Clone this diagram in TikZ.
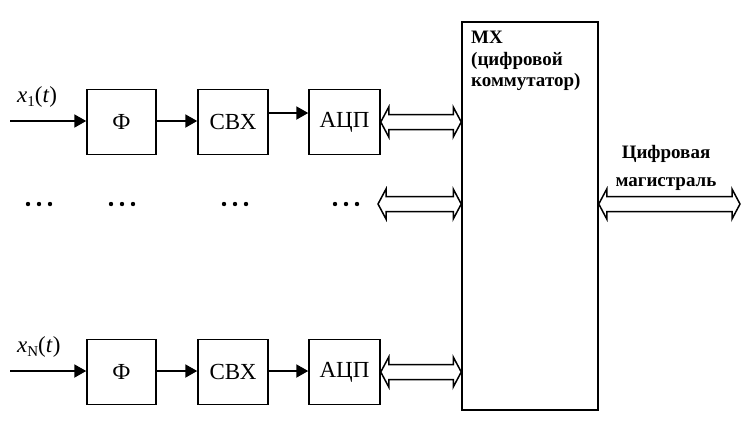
\documentclass[tikz,border=0pt]{standalone}
\usepackage{fontspec}
\setmainfont{Liberation Serif}
\usetikzlibrary{arrows.meta,calc}
% hollow two-way bus arrow between two points
\def\bus#1#2{\draw[buswire] let \p1=(#1), \p2=(#2) in
  (\x1+8pt,\y1+7.5pt) -- (\x2-8pt,\y2+7.5pt) -- (\x2-8pt,\y2+15pt) -- (\x2,\y2)
  -- (\x2-8pt,\y2-15pt) -- (\x2-8pt,\y2-7.5pt) -- (\x1+8pt,\y1-7.5pt)
  -- (\x1+8pt,\y1-15pt) -- (\x1,\y1) -- (\x1+8pt,\y1+15pt) -- cycle;}
\def\dotrow#1{\foreach \d in {-11,0,11} \fill (#1+\d,204) circle (2.2);}

\begin{document}
\begin{tikzpicture}[x=1pt,y=-1pt,
    blk/.style={draw,line width=1.5pt,minimum width=69pt,minimum height=65pt,
      inner sep=0pt,font=\fontsize{23}{25}\selectfont},
    sig/.style={line width=2pt,-{Triangle[length=12pt,width=13pt]}},
    buswire/.style={line width=1.5pt,line join=miter},
    bold/.style={font=\fontsize{19}{21.5}\selectfont\bfseries}]
  \useasboundingbox (0,0) rectangle (743,424);
  % channel 1
  \node[blk] (f1) at (121.5,122) {Ф};
  \node[blk,minimum width=70pt] (s1) at (233,122) {СВХ};
  \node[blk,minimum width=71pt] (a1) at (344.5,122) {АЦП};
  % channel N
  \node[blk] (fn) at (121.5,372) {Ф};
  \node[blk,minimum width=70pt] (sn) at (233,372) {СВХ};
  \node[blk,minimum width=71pt] (an) at (344.5,372) {АЦП};
  % multiplexer
  \node[draw,line width=1.5pt,minimum width=136pt,minimum height=388pt] (mx) at (530,216) {};
  \node[bold,anchor=north west,align=left,inner sep=0pt] (mxt) at (471,31)
    {МХ\\(цифровой\\коммутатор)};
  \node[bold,align=center,inner sep=0pt] (bt) at (666,168)
    {Цифровая\\[6pt]магистраль};
  \node[anchor=base west,inner sep=0pt,font=\fontsize{23}{25}\selectfont] (x1) at (17,102)
    {\textit{x}\raisebox{-4pt}{\fontsize{15}{16}\selectfont 1}(\textit{t})};
  \node[anchor=base west,inner sep=0pt,font=\fontsize{23}{25}\selectfont] (xn) at (17,352)
    {\textit{x}\raisebox{-4pt}{\fontsize{15}{16}\selectfont N}(\textit{t})};
  \coordinate (in1) at (10,121);
  \coordinate (inn) at (10,371);
  \coordinate (mid) at (378,204);
  \coordinate (out) at (740,204);
  % signal path
  \draw[sig] (in1) -- (f1.west |- in1);
  \draw[sig] (f1.east |- in1) -- (s1.west |- in1);
  \draw[sig] ($(s1.east)+(0,-9)$) -- ($(a1.west)+(0,-9)$);
  \draw[sig] (inn) -- (fn.west |- inn);
  \draw[sig] (fn.east |- inn) -- (sn.west |- inn);
  \draw[sig] (sn.east |- inn) -- (an.west |- inn);
  % buses
  \bus{a1.east}{a1.east -| mx.west}
  \bus{mid}{mid -| mx.west}
  \bus{an.east}{an.east -| mx.west}
  \bus{out -| mx.east}{out}
  \dotrow{39} \dotrow{122} \dotrow{235} \dotrow{346}
\end{tikzpicture}
\end{document}
